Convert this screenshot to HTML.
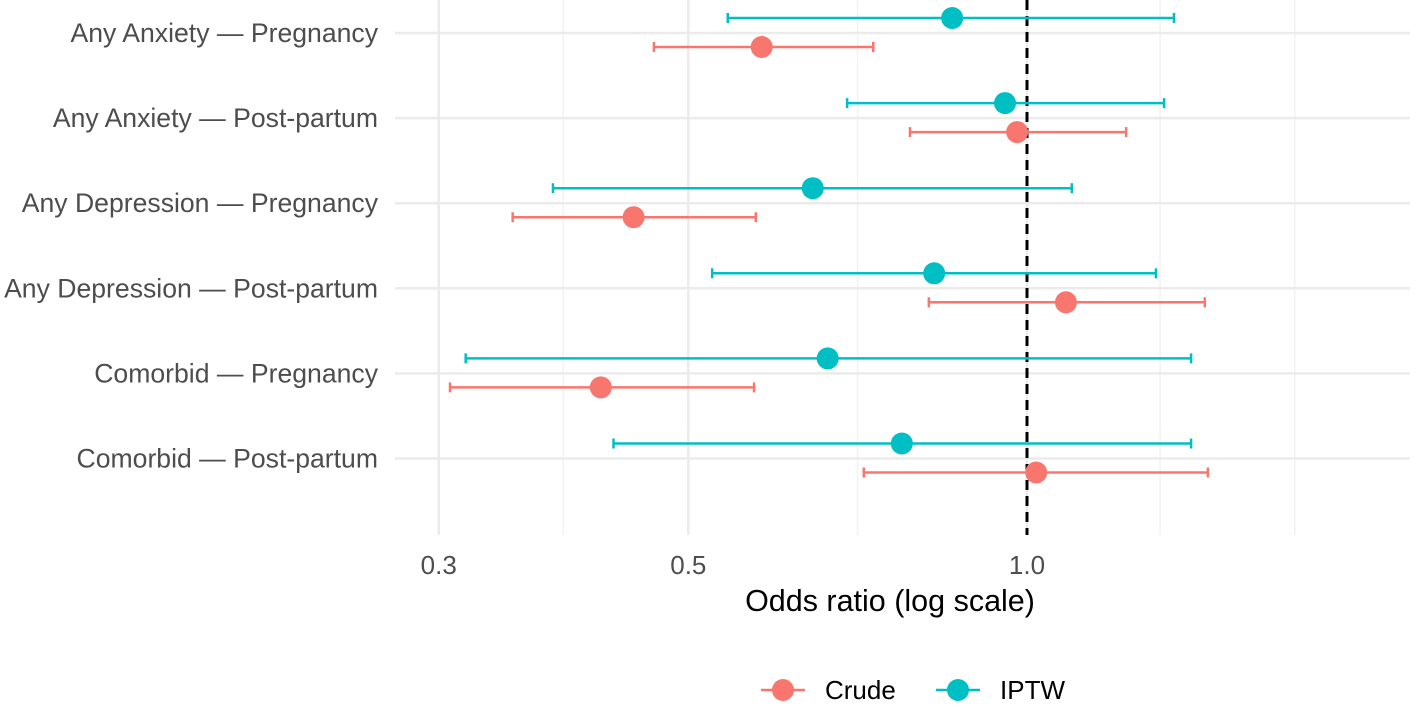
<!DOCTYPE html>
<html><head><meta charset="utf-8"><style>
html,body{margin:0;padding:0;background:#fff;}
svg{display:block;font-family:"Liberation Sans",Arial,sans-serif;}
</style></head><body>
<svg id="chart" width="1417" height="707"></svg>
<script>
const categories=["Any Anxiety — Pregnancy","Any Anxiety — Post-partum","Any Depression — Pregnancy","Any Depression — Post-partum","Comorbid — Pregnancy","Comorbid — Post-partum"];
const iptwOR=[0.858,0.956,0.645,0.827,0.665,0.774];
const iptwLo=[0.542,0.692,0.379,0.525,0.317,0.429];
const iptwHi=[1.351,1.324,1.096,1.302,1.399,1.399];
const crudeOR=[0.581,0.980,0.447,1.083,0.418,1.019];
const crudeLo=[0.466,0.787,0.349,0.818,0.307,0.716];
const crudeHi=[0.730,1.225,0.574,1.439,0.572,1.448];
const tickVals=[0.3,0.5,1.0];
const tickLabels=["0.3","0.5","1.0"];
const minorVals=[0.387,0.707,1.313,1.73];

const NS="http://www.w3.org/2000/svg";
const svg=document.getElementById('chart');
function el(t,a,p){const e=document.createElementNS(NS,t);for(const k in a)e.setAttribute(k,a[k]);(p||svg).appendChild(e);return e;}
const X0=395,X1=1410,Y0=0,Y1=535;
function xs(v){return 1027+1125*Math.log10(v);}
function ys(i){return 33+i*85.1;}
const grid=el('g',{});

minorVals.forEach(v=>{el('line',{x1:xs(v),x2:xs(v),y1:Y0,y2:Y1,stroke:'#f2f2f2','stroke-width':1.5},grid);});
tickVals.forEach(v=>{el('line',{x1:xs(v),x2:xs(v),y1:Y0,y2:Y1,stroke:'#ebebeb','stroke-width':2.5},grid);});
categories.forEach((c,i)=>{el('line',{x1:X0,x2:X1,y1:ys(i),y2:ys(i),stroke:'#ebebeb','stroke-width':2.5},grid);});
const ref=el('line',{x1:xs(1),x2:xs(1),y1:Y0,y2:Y1,stroke:'#000','stroke-width':3,'stroke-dasharray':'10,6'});

categories.forEach((c,i)=>{
  const t=el('text',{x:378,y:ys(i)+9,'text-anchor':'end','font-size':26.6,fill:'#4d4d4d'});
  t.textContent=c;
  
});
tickVals.forEach((v,i)=>{
  const t=el('text',{x:xs(v),y:574,'text-anchor':'middle','font-size':26,fill:'#4d4d4d'});
  t.textContent=tickLabels[i];
  
});
const xt=el('text',{x:890,y:611,'text-anchor':'middle','font-size':30.5,fill:'#000'});
xt.textContent='Odds ratio (log scale)';

function series(or,lo,hi,off,col,name){
  or.forEach((v,i)=>{
    const g=el('g',{});
    
    const y=ys(i)+off;
    el('line',{x1:xs(lo[i]),x2:xs(hi[i]),y1:y,y2:y,stroke:col,'stroke-width':2.5},g);
    el('line',{x1:xs(lo[i]),x2:xs(lo[i]),y1:y-5,y2:y+5,stroke:col,'stroke-width':2.5},g);
    el('line',{x1:xs(hi[i]),x2:xs(hi[i]),y1:y-5,y2:y+5,stroke:col,'stroke-width':2.5},g);
    el('circle',{cx:xs(v),cy:y,r:11,fill:col},g);
  });
}
series(iptwOR,iptwLo,iptwHi,-15,'#00BFC4','iptw');
series(crudeOR,crudeLo,crudeHi,14,'#F8766D','crude');
const lg=el('g',{});
[[783,'#F8766D','Crude'],[958,'#00BFC4','IPTW']].forEach(([x,c,l])=>{
  const g=el('g',{},lg);
  el('line',{x1:x-22,x2:x+22,y1:690,y2:690,stroke:c,'stroke-width':2.5},g);
  el('circle',{cx:x,cy:690,r:11,fill:c},g);
  const t=el('text',{x:x+42,y:699,'font-size':26,fill:'#000'},g);t.textContent=l;
});
</script>
</body></html>
